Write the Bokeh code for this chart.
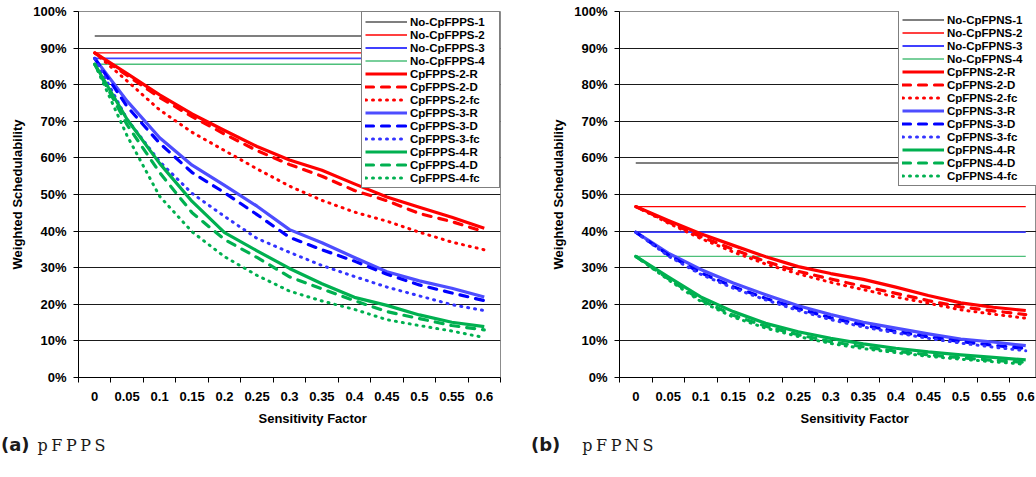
from bokeh.plotting import figure
from bokeh.layouts import row, column
from bokeh.models import (FixedTicker, CustomJSTickFormatter, Legend, LegendItem,
                          Title, Range1d, Div)
from bokeh.embed import file_html
from bokeh.resources import INLINE

# ---------------- data ----------------
sens = [0, 0.05, 0.1, 0.15, 0.2, 0.25, 0.3, 0.35, 0.4, 0.45, 0.5, 0.55, 0.6]
x_labels = ["0", "0.05", "0.1", "0.15", "0.2", "0.25", "0.3", "0.35", "0.4",
            "0.45", "0.5", "0.55", "0.6"]
y_ticks = [0, 10, 20, 30, 40, 50, 60, 70, 80, 90, 100]
y_labels = ["0%", "10%", "20%", "30%", "40%", "50%", "60%", "70%", "80%", "90%", "100%"]

# panel (a) pFPPS  (weighted schedulability, %)
a_no_names = ["No-CpFPPS-1", "No-CpFPPS-2", "No-CpFPPS-3", "No-CpFPPS-4"]
a_no_levels = [93.3, 88.7, 87.2, 85.6]
a_cp_names = ["CpFPPS-2-R", "CpFPPS-2-D", "CpFPPS-2-fc",
              "CpFPPS-3-R", "CpFPPS-3-D", "CpFPPS-3-fc",
              "CpFPPS-4-R", "CpFPPS-4-D", "CpFPPS-4-fc"]
a_2_R = [88.7, 83.0, 77.2, 72.0, 67.5, 63.1, 59.4, 56.6, 52.9, 49.3, 46.5, 43.8, 40.8]
a_2_D = [88.7, 82.5, 76.5, 71.3, 66.5, 62.0, 58.2, 55.0, 51.1, 48.3, 44.8, 42.6, 39.8]
a_2_fc = [88.7, 81.0, 73.1, 67.0, 62.0, 57.0, 52.3, 48.4, 45.2, 42.7, 39.7, 37.0, 34.9]
a_3_R = [87.2, 75.5, 65.5, 58.0, 52.5, 46.8, 40.4, 36.8, 32.8, 28.9, 26.4, 24.4, 22.0]
a_3_D = [87.2, 74.0, 64.0, 56.0, 50.5, 44.5, 38.3, 34.9, 31.8, 28.2, 25.3, 23.1, 21.0]
a_3_fc = [87.2, 70.5, 59.0, 50.3, 44.0, 38.0, 34.2, 30.6, 27.6, 24.7, 22.3, 19.9, 18.3]
a_4_R = [85.6, 70.5, 58.5, 48.1, 39.6, 34.6, 29.8, 25.6, 21.9, 19.7, 17.1, 15.1, 13.9]
a_4_D = [85.6, 69.0, 56.0, 45.0, 37.7, 32.8, 27.5, 24.2, 21.0, 18.0, 16.1, 14.2, 13.0]
a_4_fc = [85.6, 66.0, 49.5, 39.8, 33.0, 27.9, 23.6, 20.9, 18.6, 15.8, 14.2, 12.7, 10.9]

# panel (b) pFPNS
b_no_names = ["No-CpFPNS-1", "No-CpFPNS-2", "No-CpFPNS-3", "No-CpFPNS-4"]
b_no_levels = [58.6, 46.7, 39.7, 33.1]
b_cp_names = ["CpFPNS-2-R", "CpFPNS-2-D", "CpFPNS-2-fc",
              "CpFPNS-3-R", "CpFPNS-3-D", "CpFPNS-3-fc",
              "CpFPNS-4-R", "CpFPNS-4-D", "CpFPNS-4-fc"]
b_2_R = [46.7, 42.9, 39.3, 36.1, 33.0, 30.3, 28.4, 26.8, 24.7, 22.4, 20.4, 19.2, 18.3]
b_2_D = [46.7, 42.5, 38.5, 35.0, 31.7, 29.0, 26.9, 24.9, 23.0, 21.0, 19.3, 18.2, 17.2]
b_2_fc = [46.7, 42.2, 38.0, 34.3, 31.0, 28.3, 26.0, 24.0, 22.0, 20.3, 18.5, 17.3, 16.2]
b_3_R = [39.7, 34.0, 29.5, 25.8, 22.6, 19.6, 17.2, 15.1, 13.5, 11.9, 10.5, 9.7, 8.7]
b_3_D = [39.7, 33.5, 28.6, 24.8, 21.6, 18.8, 16.3, 14.3, 12.6, 11.1, 9.8, 8.8, 7.9]
b_3_fc = [39.7, 33.2, 28.2, 24.4, 21.2, 18.3, 15.8, 13.8, 12.2, 10.7, 9.4, 8.3, 7.3]
b_4_R = [33.1, 27.5, 22.0, 18.0, 14.8, 12.5, 10.7, 9.2, 8.0, 7.0, 6.2, 5.5, 4.8]
b_4_D = [33.1, 27.0, 21.2, 17.0, 14.0, 11.7, 9.8, 8.4, 7.2, 6.2, 5.4, 4.7, 4.1]
b_4_fc = [33.1, 26.7, 20.8, 16.5, 13.5, 11.2, 9.3, 7.9, 6.8, 5.8, 5.0, 4.3, 3.6]

# ---------------- styles ----------------
FONT = "Liberation Sans"
no_styles = [("#000000", 1.2), ("#FF0000", 1.3), ("#4040FF", 1.8), ("#4DBF7A", 1.4)]
cp_styles = [
    ("#FF0000", "solid", 3.2), ("#FF0000", "8 8", 3.2), ("#FF0000", "1 6", 3),
    ("#4D4DFF", "solid", 3.2), ("#0000FF", "8 8", 3.2), ("#3333FF", "1 6", 3),
    ("#00B050", "solid", 3.2), ("#00B050", "8 8", 3.2), ("#00B050", "1 6", 3),
]

half = (sens[1] - sens[0]) / 2
bounds = [s - half for s in sens] + [sens[-1] + half]

FMT_CODE = """
let b = 0;
for (let i = 0; i < vals.length; i++) {
  if (Math.abs(vals[i] - tick) < Math.abs(vals[b] - tick)) b = i;
}
return labels[b];
"""
x_fmt = CustomJSTickFormatter(args=dict(vals=sens, labels=x_labels), code=FMT_CODE)
y_fmt = CustomJSTickFormatter(args=dict(vals=y_ticks, labels=y_labels), code=FMT_CODE)

FIG_H = 432
CAP_H = 31
PX_PER_X = 650.0


def make_panel(width, border_left, border_right, x_end, no_names, no_levels,
               cp_names, cp_series, legend_loc, xtitle_offset):
    p = figure(width=width, height=FIG_H, output_backend="svg", toolbar_location=None,
               title=None, x_range=Range1d(sens[0] - half, x_end),
               y_range=Range1d(0, 100),
               min_border_left=border_left, min_border_right=border_right,
               min_border_top=11, min_border_bottom=FIG_H - 377)
    p.background_fill_color = "white"
    p.border_fill_color = "white"
    p.outline_line_color = "#8C8C8C"
    p.outline_line_width = 1

    ax = p.xaxis[0]
    ax.ticker = FixedTicker(ticks=sens, minor_ticks=bounds)
    ax.formatter = x_fmt
    ax.axis_line_color = "black"
    ax.major_tick_out = 0
    ax.major_tick_in = 0
    ax.minor_tick_out = 5
    ax.minor_tick_in = 0
    ax.minor_tick_line_color = "black"
    ax.major_label_standoff = 9
    ax.major_label_text_font = FONT
    ax.major_label_text_font_style = "bold"
    ax.major_label_text_font_size = "13px"
    ax.major_label_text_color = "black"

    ay = p.yaxis[0]
    ay.ticker = FixedTicker(ticks=y_ticks)
    ay.formatter = y_fmt
    ay.axis_line_color = "black"
    ay.major_tick_out = 5
    ay.major_tick_in = 0
    ay.minor_tick_out = 0
    ay.minor_tick_in = 0
    ay.major_tick_line_color = "black"
    ay.major_label_standoff = 7
    ay.major_label_text_font = FONT
    ay.major_label_text_font_style = "bold"
    ay.major_label_text_font_size = "13px"
    ay.major_label_text_color = "black"
    ay.axis_label = "Weighted Schedulability"
    ay.axis_label_standoff = 5
    ay.axis_label_text_font = FONT
    ay.axis_label_text_font_style = "bold"
    ay.axis_label_text_font_size = "13px"
    ay.axis_label_text_color = "black"

    p.xgrid.visible = False
    p.ygrid.ticker = FixedTicker(ticks=y_ticks)
    p.ygrid.grid_line_color = "#1A1A1A"
    p.ygrid.grid_line_width = 1

    items = []
    for name, lvl, (col, w) in zip(no_names, no_levels, no_styles):
        r = p.line([sens[0], sens[-1]], [lvl, lvl], line_color=col, line_width=w)
        items.append(LegendItem(label=name, renderers=[r]))
    for name, ys, (col, dash, w) in zip(cp_names, cp_series, cp_styles):
        cap = "butt" if dash == "solid" else "round"
        r = p.line(sens, ys, line_color=col, line_width=w, line_dash=dash,
                   line_cap=cap, line_join="round")
        items.append(LegendItem(label=name, renderers=[r]))

    leg = Legend(items=items, location=legend_loc, margin=0, padding=3, spacing=0,
                 glyph_width=42, glyph_height=13, label_height=13, label_width=86,
                 label_standoff=3,
                 label_text_font=FONT, label_text_font_style="bold",
                 label_text_font_size="11.5px", label_text_color="black",
                 border_line_color="black", border_line_width=1,
                 background_fill_color="white", background_fill_alpha=1.0)
    p.add_layout(leg)

    p.add_layout(Title(text="Sensitivity Factor", align="left", offset=xtitle_offset,
                       standoff=11, text_font=FONT, text_font_style="bold",
                       text_font_size="13px", text_color="black"), "below")
    return p


def caption(letter, name, lead, gap, width):
    html = (
        '<div style="white-space:nowrap;line-height:20px;padding-top:3px;color:#1a1a1a;">'
        f'<span style="font-family:\'DejaVu Sans\';font-weight:bold;font-size:18px;'
        f'margin-left:{lead}px;">{letter}</span>'
        f'<span style="font-family:\'DejaVu Serif\';font-size:16px;letter-spacing:3.5px;'
        f'margin-left:{gap}px;">{name}</span></div>'
    )
    return Div(text=html, width=width, height=CAP_H, margin=0)


W_A, W_B = 530, 506
FRAME_B = W_B - 89
pa = make_panel(W_A, 78, 30, sens[-1] + half, a_no_names, a_no_levels, a_cp_names,
                [a_2_R, a_2_D, a_2_fc, a_3_R, a_3_D, a_3_fc, a_4_R, a_4_D, a_4_fc],
                "top_right", 180)
# legend of (b) kept fully inside the canvas (right edge just inside the window)
pb = make_panel(W_B, 89, 0, sens[0] - half + FRAME_B / PX_PER_X, b_no_names,
                b_no_levels, b_cp_names,
                [b_2_R, b_2_D, b_2_fc, b_3_R, b_3_D, b_3_fc, b_4_R, b_4_D, b_4_fc],
                (FRAME_B - 138, 191), 181)

layout = row(column(pa, caption("(a)", "pFPPS", 1, 8, W_A)),
             column(pb, caption("(b)", "pFPNS", 1, 22, W_B)))
open("out.html", "w").write(file_html(layout, INLINE))
